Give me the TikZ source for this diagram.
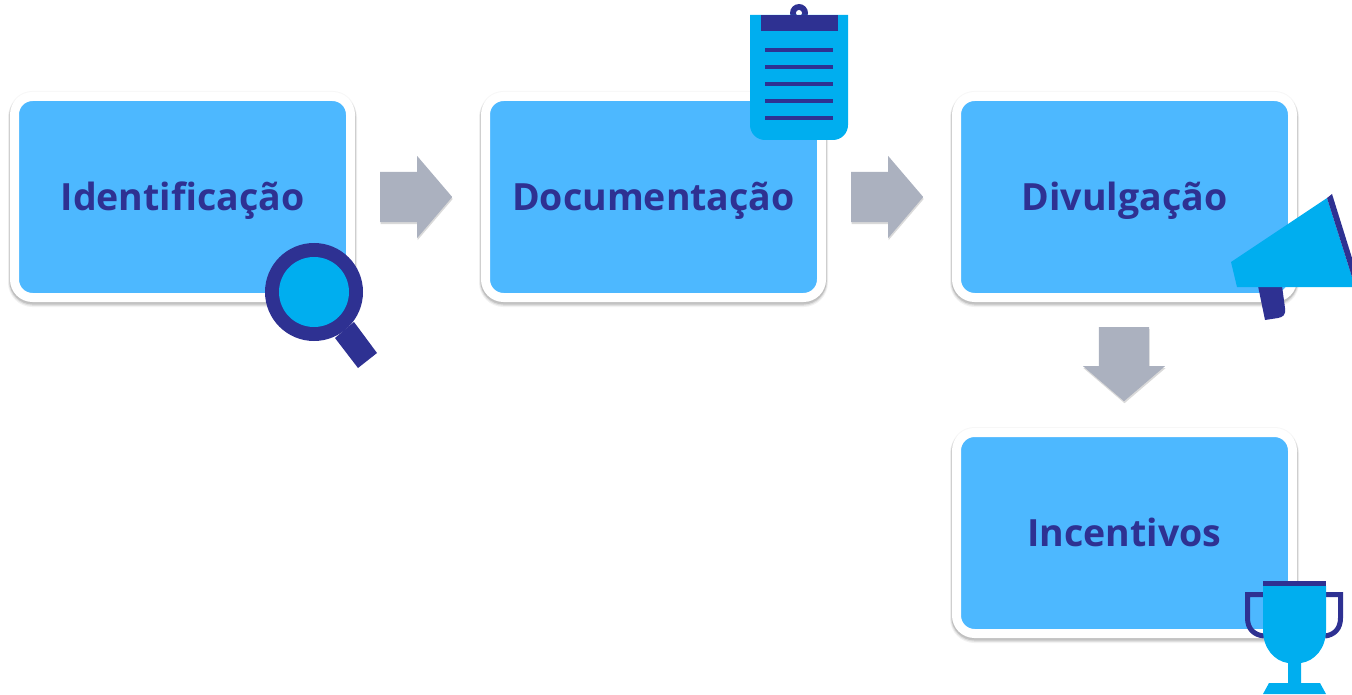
\documentclass[tikz,border=0pt]{standalone}
\usepackage{fontspec}
\setmainfont{Open Sans}
\usepackage{tikz}
\usetikzlibrary{shadows,shapes.arrows}
\definecolor{boxblue}{HTML}{4DB8FF}
\definecolor{iconblue}{HTML}{00AEEF}
\definecolor{darkblue}{HTML}{2E3192}
\definecolor{arrowgray}{HTML}{ABB1BF}

\begin{document}
\begin{tikzpicture}[x = 1pt, y = -1pt,
                        softshadow/.style = {general shadow = {draw = black, fill = none, opacity = 0.03, line width = 11pt},
                                             general shadow = {draw = black, fill = none, opacity = 0.05, line width = 13pt, shadow yshift = -3pt},
                                             general shadow = {draw = black, fill = none, opacity = 0.08, line width = 11.5pt, shadow yshift = -2.5pt},
                                             general shadow = {draw = black, fill = none, opacity = 0.12, line width = 10pt, shadow yshift = -2pt}},
                        stage/.style = {rectangle, rounded corners = 18pt, softshadow, draw = white, fill = boxblue, line width = 9pt,
                                        minimum width = 336pt, minimum height = 201pt, inner sep = 0pt, text = darkblue,
                                        font = \fontsize{37.5}{37.5}\selectfont\bfseries, text height = 27pt, text depth = 0pt},
                        flow/.style = {single arrow, fill = arrowgray, inner sep = 0pt, inner ysep = 25pt, minimum height = 72pt,
                                       single arrow head extend = 16pt, single arrow head indent = 0pt, single arrow tip angle = 99,
                                       drop shadow = {shadow xshift = 0.5pt, shadow yshift = -2pt, opacity = 0.15, fill = black}},
                        dark/.style = {fill = darkblue},
                        light/.style = {fill = iconblue}]
      \useasboundingbox (0, 0) rectangle (1352, 695);
      \node [stage] (identificacao) at (182.5, 197){Identificação};
      \node [stage] (documentacao) at (653.5, 197){Documentação};
      \node [stage] (divulgacao) at (1124.5, 197){Divulgação};
      \node [stage] (incentivos) at (1124.5, 533){Incentivos};
      \node [flow, anchor = tail] (arrow1) at (380, 197){};
      \node [flow, anchor = tail] (arrow2) at (851, 197){};
      \node [flow, anchor = tail, rotate = -90, minimum height = 74pt] (arrow3) at (1124, 327){};
      \fill [dark] (335, 338) -- (354, 322) -- (377, 353) -- (358, 368) -- cycle;
      \fill [dark] (314, 292) circle (49);
      \fill [light] (314, 292) circle (35);
      \fill [dark] (799, 13) circle (9);
      \fill [white] (799, 13) circle (3);
      \fill [light] (750, 15) -- (848, 15) -- (848, 125) arc [start angle = 0, end angle = 90, radius = 15pt, y radius = -15pt]
        -- (765, 140) arc [start angle = 90, end angle = 180, radius = 15pt, y radius = -15pt] -- cycle;
      \fill [dark] (760.5, 15) rectangle (837.5, 31);
      \foreach \y in {50, 67, 84, 101, 118}
        \fill [dark] (764.5, \y - 2.25) rectangle (833, \y + 2.25);
      \fill [dark] (1258, 286) -- (1282, 286) -- (1285, 308) .. controls (1286, 315) and (1283, 317) .. (1278, 318) -- (1265, 320) -- cycle;
      \fill [light] (1231, 262) -- (1327, 198) -- (1352, 277) -- (1352, 287) -- (1237, 287) -- cycle;
      \fill [dark] (1327, 198) -- (1332, 194) -- (1352, 258) -- (1352, 277) -- cycle;
      \draw [darkblue, line width = 5pt] (1264, 594.5) -- (1247.5, 594.5) -- (1247.5, 618) .. controls (1247.5, 629) and (1254, 635) .. (1264, 636);
      \draw [darkblue, line width = 5pt] (1325, 594.5) -- (1340.5, 594.5) -- (1340.5, 618) .. controls (1340.5, 629) and (1334, 635) .. (1325, 636);
      \fill [light] (1263, 586) -- (1326, 586) -- (1326, 630) .. controls (1326, 648) and (1315, 661) .. (1301, 663) -- (1301, 683) -- (1320, 683)
        -- (1326, 694) -- (1263, 694) -- (1269, 683) -- (1288, 683) -- (1288, 663) .. controls (1274, 661) and (1263, 648) .. (1263, 630) -- cycle;
      \fill [dark] (1263, 581) rectangle (1326, 586);
    \end{tikzpicture}
\end{document}
